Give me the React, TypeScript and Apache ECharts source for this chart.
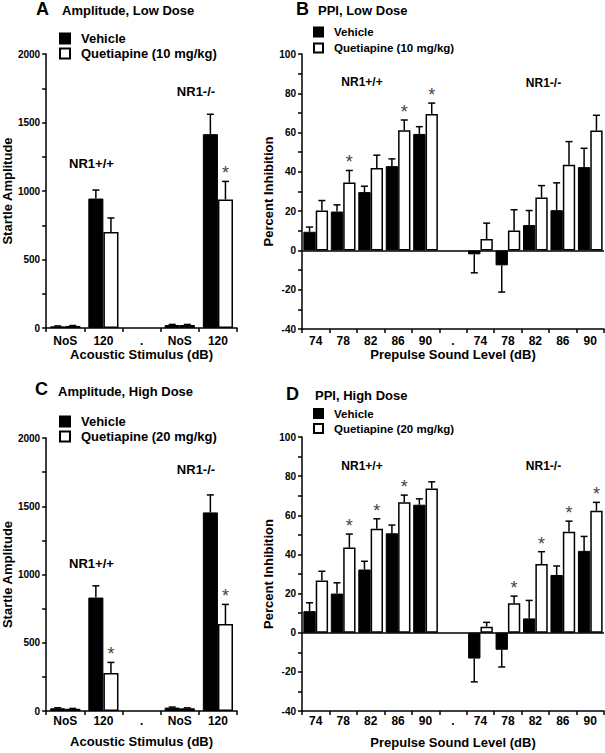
import React, { useEffect, useRef } from "react";
import * as echarts from "echarts";

const FONT = "'Liberation Sans', Arial, Helvetica, sans-serif";

// ---- Panel A / C: startle amplitude ----
const ampCategories = ["NoS", "120", ".", "NoS", "120"];
const ampLowVehicle = [12, 945, null, 22, 1415];
const ampLowVehicleErr = [3, 62, null, 4, 145];
const ampLowQuet = [15, 700, null, 22, 938];
const ampLowQuetErr = [3, 103, null, 4, 132];
const ampLowQuetStar = [0, 0, 0, 0, 1];

const ampHighVehicle = [20, 831, null, 25, 1455];
const ampHighVehicleErr = [4, 86, null, 4, 128];
const ampHighQuet = [16, 279, null, 20, 637];
const ampHighQuetErr = [3, 77, null, 3, 144];
const ampHighQuetStar = [0, 1, 0, 0, 1];

// ---- Panel B / D: PPI ----
const ppiCategories = ["74", "78", "82", "86", "90", ".", "74", "78", "82", "86", "90"];
const ppiLowVehicle = [9.5, 19.8, 29.7, 42.9, 59.3, null, -2, -7.6, 12.9, 20.5, 42.4];
const ppiLowVehicleErr = [2.4, 3.4, 3, 3.7, 3.7, null, 9.4, 13.6, 7.4, 13.9, 9.6];
const ppiLowQuet = [20.3, 34.6, 42, 61.2, 69.5, null, 5.8, 10.2, 27, 43.6, 61];
const ppiLowQuetErr = [5.1, 6.1, 6.5, 5.2, 5.5, null, 8.1, 10.5, 6, 11.8, 7.8];
const ppiLowQuetStar = [0, 1, 0, 1, 1, 0, 0, 0, 0, 0, 0];

const ppiHighVehicle = [11, 20, 32.3, 50.8, 65.4, null, -13.2, -8.7, 7.3, 29.5, 41.8];
const ppiHighVehicleErr = [4.3, 5.5, 4.2, 4.2, 3, null, 11.9, 8.8, 9.2, 4.6, 7.4];
const ppiHighQuet = [26.7, 43.5, 53.1, 66.6, 73.7, null, 3.1, 15.1, 35.1, 51.6, 62.3];
const ppiHighQuetErr = [4.7, 6.9, 5.1, 3.7, 3.4, null, 2.2, 3.6, 6.3, 5.4, 4.3];
const ppiHighQuetStar = [0, 1, 1, 1, 0, 0, 0, 1, 1, 1, 1];

const ampTicks = { min: 0, max: 2000, interval: 500 };
const ppiTicks = { min: -40, max: 100, interval: 20 };

const AMP_GAP = 0.21;
const PPI_GAP = 0.1;
const STAR_COLOR = "#444";

function errSeries(
  idx: number,
  vals: (number | null)[],
  errs: (number | null)[],
  stars: number[] | null,
  side: number,
  gap: number
) {
  const data: number[][] = [];
  vals.forEach((v, i) => {
    if (v !== null && v !== undefined) data.push([i, v, errs[i] as number, stars ? stars[i] : 0]);
  });
  return {
    type: "custom",
    xAxisIndex: idx,
    yAxisIndex: idx,
    z: 4,
    silent: true,
    itemStyle: { color: STAR_COLOR },
    data,
    renderItem: (params: any, api: any) => {
      const i = api.value(0);
      const v = api.value(1);
      const e = api.value(2);
      const s = api.value(3);
      const band = api.size([1, 0])[0];
      const bw = (band * (1 - gap)) / 2;
      const x = api.coord([i, 0])[0] + (side * bw) / 2;
      const yb = api.coord([i, v])[1];
      const ye = api.coord([i, v >= 0 ? v + e : v - e])[1];
      const children: any[] = [
        { type: "line", shape: { x1: x, y1: yb, x2: x, y2: ye }, style: { stroke: "#000", lineWidth: 1.5, fill: null } },
        { type: "line", shape: { x1: x - 3.5, y1: ye, x2: x + 3.5, y2: ye }, style: { stroke: "#000", lineWidth: 1.5, fill: null } },
      ];
      if (s) {
        children.push({
          type: "text",
          style: {
            text: "*",
            x,
            y: ye - 8,
            align: "center",
            verticalAlign: "middle",
            fontSize: 18,
            fontFamily: FONT,
            fill: STAR_COLOR,
            stroke: null,
          },
        });
      }
      return { type: "group", children };
    },
  };
}

function barSeries(idx: number, name: string, vals: (number | null)[], vehicle: boolean, gap: number, zeroLine: boolean) {
  const s: any = {
    type: "bar",
    name,
    xAxisIndex: idx,
    yAxisIndex: idx,
    data: vals.map((v) => (v === null ? "-" : v)),
    barGap: "0%",
    barCategoryGap: `${Math.round(gap * 100)}%`,
    itemStyle: vehicle
      ? { color: "#000", borderColor: "#000", borderWidth: 1 }
      : { color: "#fff", borderColor: "#000", borderWidth: 1.5 },
    z: 2,
  };
  if (zeroLine) {
    s.markLine = {
      silent: true,
      symbol: ["none", "none"],
      label: { show: false },
      lineStyle: { color: "#000", width: 1.5, type: "solid" },
      data: [{ yAxis: 0 }],
      z: 3,
    };
  }
  return s;
}

const lineStyle = { color: "#000", width: 1.5 };

function xAxis(idx: number, cats: string[], name: string, margin: number, nameGap: number) {
  return {
    type: "category",
    gridIndex: idx,
    data: cats,
    boundaryGap: true,
    axisLine: { show: true, onZero: false, lineStyle },
    axisTick: { show: true, length: 4, lineStyle, interval: 0 },
    axisLabel: { interval: 0, color: "#000", fontWeight: "bold", fontSize: 12, fontFamily: FONT, margin },
    splitLine: { show: false },
    name,
    nameLocation: "middle",
    nameGap,
    nameTextStyle: { color: "#000", fontWeight: "bold", fontSize: 13, fontFamily: FONT },
  };
}

function yAxis(idx: number, t: { min: number; max: number; interval: number }, name: string, nameGap: number) {
  return {
    type: "value",
    gridIndex: idx,
    min: t.min,
    max: t.max,
    interval: t.interval,
    axisLine: { show: true, lineStyle },
    axisTick: { show: true, length: 4, lineStyle },
    minorTick: { show: true, splitNumber: 2, length: 4, lineStyle },
    axisLabel: {
      color: "#000",
      fontWeight: "bold",
      fontSize: 10,
      fontFamily: FONT,
      margin: 6,
      formatter: (v: number) => String(v),
    },
    splitLine: { show: false },
    minorSplitLine: { show: false },
    name,
    nameLocation: "middle",
    nameRotate: 90,
    nameGap,
    nameTextStyle: { color: "#000", fontWeight: "bold", fontSize: 13, fontFamily: FONT },
  };
}

function legend(left: number, top: number, names: string[], fontSize: number, lineHeight: number, icon: number) {
  return {
    orient: "vertical",
    left,
    top,
    padding: 0,
    itemGap: 2,
    itemWidth: icon,
    itemHeight: icon,
    icon: "rect",
    selectedMode: false,
    data: names,
    textStyle: {
      color: "#000",
      fontWeight: "bold",
      fontSize,
      lineHeight,
      fontFamily: FONT,
      padding: [0, 0, 0, 6],
    },
  };
}

function txt(text: string, x: number, y: number, fontSize: number, align = "left") {
  return {
    type: "text",
    x,
    y,
    silent: true,
    style: { text, fontSize, fontWeight: "bold", fontFamily: FONT, fill: "#000", align, verticalAlign: "middle" },
  };
}

export default function App() {
  const ref = useRef<HTMLDivElement>(null);
  useEffect(() => {
    if (!ref.current) return;
    const chart = echarts.init(ref.current, null, { renderer: "svg" });
    const Q10 = "Quetiapine (10 mg/kg)";
    const Q20 = "Quetiapine (20 mg/kg)";
    const option: any = {
      animation: false,
      backgroundColor: "#fff",
      grid: [
        { left: 46, top: 54, width: 191, height: 274 },
        { left: 302, top: 54, width: 302, height: 275 },
        { left: 46, top: 438, width: 191, height: 273 },
        { left: 302, top: 437, width: 302, height: 274 },
      ],
      xAxis: [
        xAxis(0, ampCategories, "Acoustic Stimulus (dB)", 7, 18),
        xAxis(1, ppiCategories, "Prepulse Sound Level (dB)", 6, 18),
        xAxis(2, ampCategories, "Acoustic Stimulus (dB)", 4, 24),
        xAxis(3, ppiCategories, "Prepulse Sound Level (dB)", 4, 25),
      ],
      yAxis: [
        yAxis(0, ampTicks, "Startle Amplitude", 32),
        yAxis(1, ppiTicks, "Percent Inhibition", 25),
        yAxis(2, ampTicks, "Startle Amplitude", 32),
        yAxis(3, ppiTicks, "Percent Inhibition", 25),
      ],
      legend: [
        legend(59, 32, ["Vehicle", Q10], 13, 13, 10),
        legend(313, 25, ["Vehicle", Q10], 11.5, 14, 9),
        legend(59, 415, ["Vehicle", Q20], 13, 13, 10),
        legend(313, 407, ["Vehicle", Q20], 11.5, 13, 9),
      ],
      series: [
        barSeries(0, "Vehicle", ampLowVehicle, true, AMP_GAP, false),
        barSeries(0, Q10, ampLowQuet, false, AMP_GAP, false),
        errSeries(0, ampLowVehicle, ampLowVehicleErr, null, -1, AMP_GAP),
        errSeries(0, ampLowQuet, ampLowQuetErr, ampLowQuetStar, 1, AMP_GAP),

        barSeries(1, "Vehicle", ppiLowVehicle, true, PPI_GAP, true),
        barSeries(1, Q10, ppiLowQuet, false, PPI_GAP, false),
        errSeries(1, ppiLowVehicle, ppiLowVehicleErr, null, -1, PPI_GAP),
        errSeries(1, ppiLowQuet, ppiLowQuetErr, ppiLowQuetStar, 1, PPI_GAP),

        barSeries(2, "Vehicle", ampHighVehicle, true, AMP_GAP, false),
        barSeries(2, Q20, ampHighQuet, false, AMP_GAP, false),
        errSeries(2, ampHighVehicle, ampHighVehicleErr, null, -1, AMP_GAP),
        errSeries(2, ampHighQuet, ampHighQuetErr, ampHighQuetStar, 1, AMP_GAP),

        barSeries(3, "Vehicle", ppiHighVehicle, true, PPI_GAP, true),
        barSeries(3, Q20, ppiHighQuet, false, PPI_GAP, false),
        errSeries(3, ppiHighVehicle, ppiHighVehicleErr, null, -1, PPI_GAP),
        errSeries(3, ppiHighQuet, ppiHighQuetErr, ppiHighQuetStar, 1, PPI_GAP),
      ],
      graphic: [
        txt("A", 36, 9, 18),
        txt("Amplitude, Low Dose", 62, 10.5, 13),
        txt("B", 296, 9, 18),
        txt("PPI, Low Dose", 318, 10.5, 13),
        txt("C", 35, 389, 18),
        txt("Amplitude, High Dose", 58, 391, 13),
        txt("D", 286, 394, 18),
        txt("PPI, High Dose", 315, 395.5, 13),
        txt("NR1+/+", 91.5, 163, 13, "center"),
        txt("NR1-/-", 196, 91, 13, "center"),
        txt("NR1+/+", 91.5, 563, 13, "center"),
        txt("NR1-/-", 196, 469, 13, "center"),
        txt("NR1+/+", 362, 82, 12, "center"),
        txt("NR1-/-", 543.5, 82.5, 12, "center"),
        txt("NR1+/+", 362, 466, 12, "center"),
        txt("NR1-/-", 543.5, 466, 12, "center"),
      ],
    };
    chart.setOption(option);
    return () => chart.dispose();
  }, []);
  return (
    <div
      ref={ref}
      style={{ position: "absolute", left: 0, top: 0, width: 605, height: 753, background: "#fff" }}
    />
  );
}
